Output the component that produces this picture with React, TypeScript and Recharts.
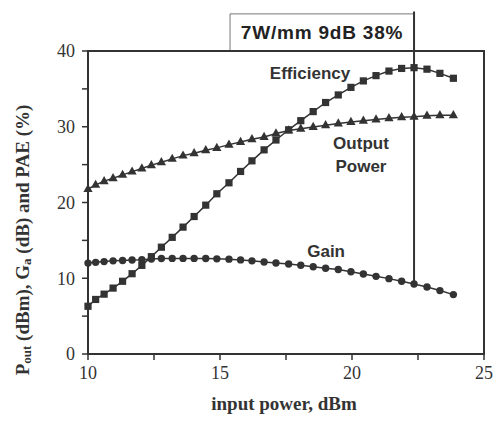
import React from 'react';
import { LineChart, Line, XAxis, YAxis, ReferenceArea, ReferenceLine, ReferenceDot, Label } from 'recharts';

const inputPower = [10.00, 10.29, 10.61, 10.95, 11.31, 11.67, 12.04, 12.40, 12.78, 13.19, 13.60, 14.02, 14.46, 14.88, 15.34, 15.78, 16.21, 16.67, 17.12, 17.60, 18.06, 18.53, 19.00, 19.48, 19.96, 20.43, 20.91, 21.40, 21.88, 22.35, 22.84, 23.33, 23.84];
const efficiency = [6.3, 7.2, 7.9, 8.7, 9.6, 10.6, 11.7, 12.85, 14.1, 15.4, 16.75, 18.15, 19.65, 21.15, 22.6, 24.1, 25.5, 26.95, 28.25, 29.6, 30.8, 32.0, 33.2, 34.2, 35.2, 36.05, 36.75, 37.35, 37.7, 37.8, 37.6, 37.05, 36.4];
const outputPower = [21.77, 22.33, 22.82, 23.21, 23.65, 24.08, 24.48, 24.93, 25.32, 25.76, 26.19, 26.51, 26.9, 27.21, 27.64, 28.0, 28.35, 28.66, 29.12, 29.51, 29.75, 29.97, 30.2, 30.43, 30.63, 30.8, 30.96, 31.12, 31.25, 31.33, 31.46, 31.52, 31.52];
const gain = [12.0, 12.1, 12.2, 12.3, 12.35, 12.4, 12.45, 12.55, 12.6, 12.62, 12.62, 12.62, 12.6, 12.56, 12.52, 12.42, 12.3, 12.15, 12.02, 11.88, 11.72, 11.52, 11.32, 11.15, 10.85, 10.57, 10.25, 9.95, 9.6, 9.25, 8.85, 8.37, 7.84];

const xTicks = [10, 12.5, 15, 17.5, 20, 22.5, 25];
const yTicks = [0, 5, 10, 15, 20, 25, 30, 35, 40];

const annotationText = '7W/mm 9dB 38%';
const markX = 22.35;
const markGain = 9.25;
const boxLeft = 15.38;

const data = inputPower.map((x, i) => ({ x, eff: efficiency[i], pout: outputPower[i], gain: gain[i] }));

const INK = '#333';

const SquareDot = (p: any) => {
  const { cx, cy, index } = p;
  if (cx == null || cy == null) return <g key={`s${index}`} />;
  return <rect key={`s${index}`} x={cx - 3.6} y={cy - 3.6} width={7.2} height={7.2} fill={INK} />;
};
const TriDot = (p: any) => {
  const { cx, cy, index } = p;
  if (cx == null || cy == null) return <g key={`t${index}`} />;
  return <polygon key={`t${index}`} points={`${cx},${cy - 5.2} ${cx + 4.6},${cy + 3} ${cx - 4.6},${cy + 3}`} fill={INK} />;
};
const CircDot = (p: any) => {
  const { cx, cy, index } = p;
  if (cx == null || cy == null) return <g key={`c${index}`} />;
  return <circle key={`c${index}`} cx={cx} cy={cy} r={3.7} fill={INK} />;
};

const sans = '"Liberation Sans", Arial, sans-serif';
const serif = '"Liberation Serif", "Times New Roman", serif';

const textLabel = (value: string) => ({
  value,
  position: 'center' as const,
  fill: INK,
  fontSize: 17,
  fontWeight: 'bold',
  fontFamily: sans,
});

const YLabel = (props: any) => {
  const cx = 22;
  const cy = 240;
  return (
    <text
      transform={`translate(${cx},${cy}) rotate(-90)`}
      textAnchor="middle"
      dominantBaseline="central"
      fill={INK}
      fontFamily={serif}
      fontWeight="bold"
      fontSize={19}
    >
      <tspan>P</tspan>
      <tspan fontSize={13} dy={4}>out</tspan>
      <tspan dy={-4}> (dBm), G</tspan>
      <tspan fontSize={13} dy={4}>a</tspan>
      <tspan dy={-4}> (dB) and PAE (%)</tspan>
    </text>
  );
};

const XLabel = (props: any) => {
  const vb = props.viewBox || { x: 88, y: 354, width: 396, height: 78 };
  return (
    <text
      x={vb.x + vb.width / 2 - 2}
      y={403}
      textAnchor="middle"
      dominantBaseline="central"
      fill={INK}
      fontFamily={serif}
      fontWeight="bold"
      fontSize={19}
    >
      input power, dBm
    </text>
  );
};

export default function App() {
  return (
    <div style={{ position: 'absolute', left: 0, top: 0, background: '#fff' }}>
      <LineChart width={494} height={433} data={data} margin={{ top: 51, right: 10, left: 0, bottom: 0 }}>
        <XAxis
          type="number"
          dataKey="x"
          domain={[10, 25]}
          ticks={xTicks}
          interval={0}
          tickFormatter={(v: number) => (v % 5 === 0 ? String(v) : '')}
          height={79}
          axisLine={{ stroke: INK, strokeWidth: 2 }}
          tickLine={{ stroke: INK, strokeWidth: 1.5 }}
          tickSize={6}
          tickMargin={6}
          tick={{ fill: INK, fontSize: 18, fontFamily: serif }}
        >
          <Label content={<XLabel />} />
        </XAxis>
        <YAxis
          type="number"
          domain={[0, 40]}
          ticks={yTicks}
          interval={0}
          tickFormatter={(v: number) => (v % 10 === 0 ? String(v) : '')}
          width={88}
          axisLine={{ stroke: INK, strokeWidth: 2 }}
          tickLine={{ stroke: INK, strokeWidth: 1.5 }}
          tickSize={6}
          tickMargin={7}
          tick={{ fill: INK, fontSize: 18, fontFamily: serif }}
        >
          <Label content={<YLabel />} />
        </YAxis>
        <ReferenceArea
          x1={boxLeft}
          x2={markX}
          y1={40}
          y2={44.9}
          ifOverflow="visible"
          fill="#fff"
          fillOpacity={1}
          stroke="#777"
          strokeWidth={1}
          label={{ value: annotationText, position: 'center', fill: '#222', fontSize: 19, fontWeight: 'bold', fontFamily: sans, letterSpacing: 0.8 }}
        />
        <ReferenceArea x1={10} x2={25} y1={0} y2={40} ifOverflow="visible" fill="none" stroke={INK} strokeWidth={2} />
        <ReferenceLine
          segment={[{ x: markX, y: markGain }, { x: markX, y: 45.2 }]}
          ifOverflow="visible"
          stroke={INK}
          strokeWidth={2}
        />
        <Line type="linear" dataKey="eff" stroke={INK} strokeWidth={1.5} dot={SquareDot} activeDot={false} isAnimationActive={false} />
        <Line type="linear" dataKey="pout" stroke={INK} strokeWidth={1.5} dot={TriDot} activeDot={false} isAnimationActive={false} />
        <Line type="linear" dataKey="gain" stroke={INK} strokeWidth={1.5} dot={CircDot} activeDot={false} isAnimationActive={false} />
        <ReferenceDot x={18.41} y={37.15} r={0} ifOverflow="visible" fill="none" stroke="none" label={textLabel('Efficiency')} />
        <ReferenceDot x={20.34} y={27.8} r={0} ifOverflow="visible" fill="none" stroke="none" label={textLabel('Output')} />
        <ReferenceDot x={20.34} y={24.85} r={0} ifOverflow="visible" fill="none" stroke="none" label={textLabel('Power')} />
        <ReferenceDot x={19.02} y={13.57} r={0} ifOverflow="visible" fill="none" stroke="none" label={textLabel('Gain')} />
      </LineChart>
    </div>
  );
}
